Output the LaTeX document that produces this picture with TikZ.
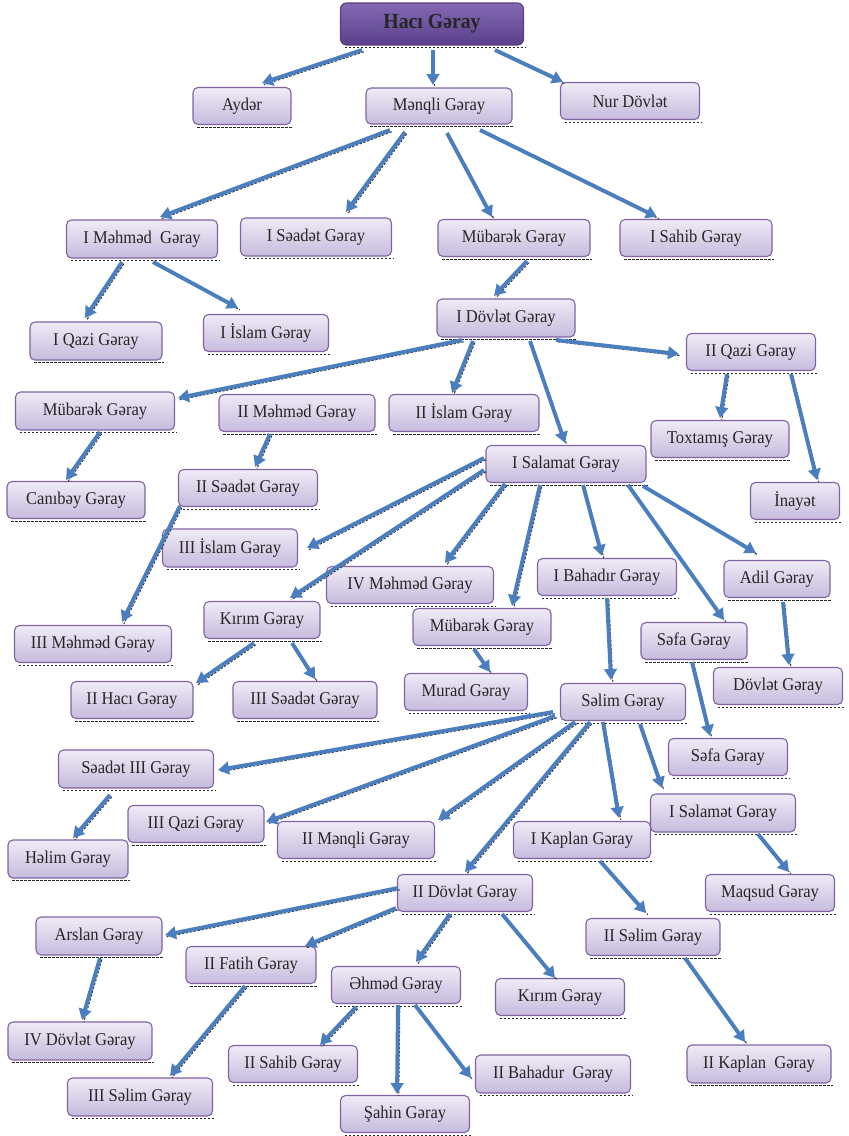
\documentclass[tikz,border=0pt]{standalone}
\usepackage{fontspec}
\setmainfont{Liberation Serif}[FakeStretch=0.92]
\usetikzlibrary{arrows.meta}
\definecolor{boxtop}{RGB}{239,235,246}
\definecolor{boxbot}{RGB}{198,187,221}
\definecolor{boxline}{RGB}{128,100,162}
\definecolor{ttop}{RGB}{132,104,180}
\definecolor{tbot}{RGB}{90,64,138}
\definecolor{tline}{RGB}{88,62,132}
\definecolor{arrblue}{RGB}{74,126,190}
\tikzset{
  box/.style={rectangle, rounded corners=5pt, draw=boxline, line width=1.1pt,
    top color=boxtop, bottom color=boxbot, inner sep=0pt,
    font=\fontsize{18}{20}\selectfont, text=black!85},
  titlebox/.style={rectangle, rounded corners=6pt, draw=tline, line width=1.1pt,
    top color=ttop, bottom color=tbot, inner sep=0pt,
    font=\fontsize{21.5}{23}\selectfont\bfseries, text=black!85},
  shad/.style={draw=black!85, line width=1pt, dash pattern=on 2.5pt off 1.5pt},
  arr/.style={draw=arrblue, line width=3.9pt, -{Triangle[length=11pt,width=12.5pt]}},
  arrshad/.style={draw=black!80, line width=1pt, dash pattern=on 2.5pt off 1.5pt,
    transform canvas={shift={(1.8pt,-1.8pt)}}}
}
\newcommand\mybox[5]{%
  \node[box, minimum width=#3pt, minimum height=#4pt] (#1) at (#2) {#5};
  \draw[shad] ([shift={(5,2.2)}]#1.south west) -- ([shift={(1,2.2)}]#1.south east);}
\newcommand\myconn[4]{%
  \draw[arrshad] ([shift={(#2)}]#1.center) -- ([shift={(#4)}]#3.center);
  \draw[arr] ([shift={(#2)}]#1.center) -- ([shift={(#4)}]#3.center);}
\begin{document}
\begin{tikzpicture}[x=1pt,y=-1pt]
\useasboundingbox (0,0) rectangle (849,1136);
\node[titlebox, minimum width=183pt, minimum height=42pt] (H) at (432,24) {Hacı Gəray};
\draw[shad] ([shift={(5,2.2)}]H.south west) -- ([shift={(1,2.2)}]H.south east);
\mybox{A}{242,106}{98}{37}{Aydər}
\mybox{M}{439,106}{146}{36}{Mənqli Gəray}
\mybox{N}{630,101}{139}{37}{Nur Dövlət}
\mybox{IM}{142,239}{151}{38}{I Məhməd\ \ Gəray}
\mybox{IS}{316,237}{151}{38}{I Səadət Gəray}
\mybox{MBa}{514,238}{152}{37}{Mübarək Gəray}
\mybox{ISh}{696,238}{152}{37}{I Sahib Gəray}
\mybox{IQ}{96,341}{132}{38}{I Qazi Gəray}
\mybox{II}{266,333}{125}{37}{I İslam Gəray}
\mybox{ID}{506,318}{138}{38}{I Dövlət Gəray}
\mybox{IIQ}{751,352}{129}{37}{II Qazi Gəray}
\mybox{MBb}{95,411}{159}{38}{Mübarək Gəray}
\mybox{IIM}{297,413}{156}{37}{II Məhməd Gəray}
\mybox{III}{464,413}{150}{37}{II İslam Gəray}
\mybox{T}{720,439}{138}{37}{Toxtamış Gəray}
\mybox{SAL}{566,464}{160}{37}{I Salamat Gəray}
\mybox{IN}{795,501}{89}{37}{İnayət}
\mybox{C}{76,500}{138}{37}{Canıbəy Gəray}
\mybox{IIS}{248,488}{139}{37}{II Səadət Gəray}
\mybox{IIIIs}{230,548}{135}{38}{III İslam Gəray}
\mybox{IVM}{410,585}{167}{37}{IV Məhməd Gəray}
\mybox{IB}{607,577}{139}{37}{I Bahadır Gəray}
\mybox{AD}{777,579}{106}{37}{Adil Gəray}
\mybox{IIIM}{93,644}{157}{37}{III Məhməd Gəray}
\mybox{Ka}{262,620}{116}{37}{Kırım Gəray}
\mybox{MBc}{482,627}{138}{37}{Mübarək Gəray}
\mybox{SFa}{694,641}{106}{37}{Səfa Gəray}
\mybox{DG}{778,686}{129}{37}{Dövlət Gəray}
\mybox{IIH}{132,700}{122}{37}{II Hacı Gəray}
\mybox{IIIS}{305,700}{144}{37}{III Səadət Gəray}
\mybox{MU}{466,692}{123}{37}{Murad Gəray}
\mybox{SEL}{623,702}{125}{37}{Səlim Gəray}
\mybox{S3}{136,769}{155}{38}{Səadət III Gəray}
\mybox{SFb}{728,757}{119}{37}{Səfa Gəray}
\mybox{ISL}{723,813}{145}{38}{I Səlamət Gəray}
\mybox{IIIQ}{196,824}{136}{37}{III Qazi Gəray}
\mybox{IIMQ}{356,840}{157}{37}{II Mənqli Gəray}
\mybox{IK}{582,840}{137}{37}{I Kaplan Gəray}
\mybox{HL}{68,859}{120}{38}{Həlim Gəray}
\mybox{MQ}{770,893}{129}{37}{Maqsud Gəray}
\mybox{IID}{465,893}{135}{37}{II Dövlət Gəray}
\mybox{AR}{99,936}{126}{38}{Arslan Gəray}
\mybox{IIF}{251,965}{130}{37}{II Fatih Gəray}
\mybox{IISL}{653,937}{134}{37}{II Səlim Gəray}
\mybox{EH}{396,985}{129}{37}{Əhməd Gəray}
\mybox{Kb}{560,997}{129}{37}{Kırım Gəray}
\mybox{IVD}{80,1041}{144}{38}{IV Dövlət Gəray}
\mybox{IISH}{293,1064}{129}{37}{II Sahib Gəray}
\mybox{IIB}{553,1074}{155}{38}{II Bahadur\ \ Gəray}
\mybox{IIK}{759,1064}{144}{38}{II Kaplan\ \ Gəray}
\mybox{IIISL}{140,1097}{145}{38}{III Səlim Gəray}
\mybox{SH}{405,1114}{129}{37}{Şahin Gəray}
% connectors
\myconn{H}{-70,26}{A}{20,-23}
\myconn{H}{1,26}{M}{-6,-21}
\myconn{H}{63,26}{N}{-67,-19}
\myconn{M}{-49,24}{IM}{18,-22}
\myconn{M}{-34,26}{IS}{30,-25}
\myconn{M}{8,27}{MBa}{-22,-21}
\myconn{M}{41,24}{ISh}{-39,-21}
\myconn{IM}{-20,23}{IQ}{-11,-23}
\myconn{IM}{11,23}{II}{-28,-25}
\myconn{MBa}{13,23}{ID}{-12,-22}
\myconn{ID}{-44,22}{MBb}{83,-13}
\myconn{ID}{-33,23}{III}{-12,-20}
\myconn{ID}{24,23}{SAL}{-1,-21}
\myconn{ID}{50,22}{IIQ}{-72,2}
\myconn{IIQ}{-24,22}{T}{0,-21}
\myconn{IIQ}{40,22}{IN}{22,-21}
\myconn{MBb}{5,21}{C}{-10,-20}
\myconn{IIM}{-27,21}{IIS}{7,-21}
\myconn{IIS}{-68,18}{IIIM}{29,-22}
\myconn{SAL}{-82,-6}{IIIIs}{77,0}
\myconn{SAL}{-82,6}{Ka}{28,-22}
\myconn{SAL}{-61,20}{IVM}{35,-22}
\myconn{SAL}{-26,21}{MBc}{30,-21}
\myconn{SAL}{17,21}{IB}{-5,-21}
\myconn{SAL}{62,21}{SFa}{30,-21}
\myconn{SAL}{77,22}{AD}{-21,-26}
\myconn{AD}{6,23}{DG}{11,-21}
\myconn{IB}{0,21}{SEL}{-12,-22}
\myconn{Ka}{-8,23}{IIH}{64,-17}
\myconn{Ka}{30,23}{IIIS}{10,-21}
\myconn{MBc}{-8,22}{MU}{24,-20}
\myconn{SFa}{-2,21}{SFb}{-18,-21}
\myconn{SEL}{-70,10}{S3}{82,1}
\myconn{SEL}{-68,14}{IIIQ}{70,-2}
\myconn{SEL}{-48,20}{IIMQ}{82,-20}
\myconn{SEL}{-33,20}{IID}{0,-21}
\myconn{SEL}{-20,20}{IK}{37,-22}
\myconn{SEL}{17,22}{ISL}{-61,-25}
\myconn{S3}{-26,26}{HL}{5,-21}
\myconn{ISL}{35,21}{MQ}{19,-21}
\myconn{IK}{18,21}{IISL}{-7,-24}
\myconn{IID}{-67,-5}{AR}{66,-1}
\myconn{IID}{-69,15}{IIF}{54,-19}
\myconn{IID}{-15,21}{EH}{20,-23}
\myconn{IID}{37,21}{Kb}{-5,-19}
\myconn{AR}{1,22}{IVD}{2,-21}
\myconn{IIF}{-6,21}{IIISL}{30,-21}
\myconn{EH}{-40,22}{IISH}{27,-19}
\myconn{EH}{2,20}{SH}{-8,-20}
\myconn{EH}{19,20}{IIB}{-82,4}
\myconn{IISL}{32,21}{IIK}{-14,-22}
\end{tikzpicture}
\end{document}
